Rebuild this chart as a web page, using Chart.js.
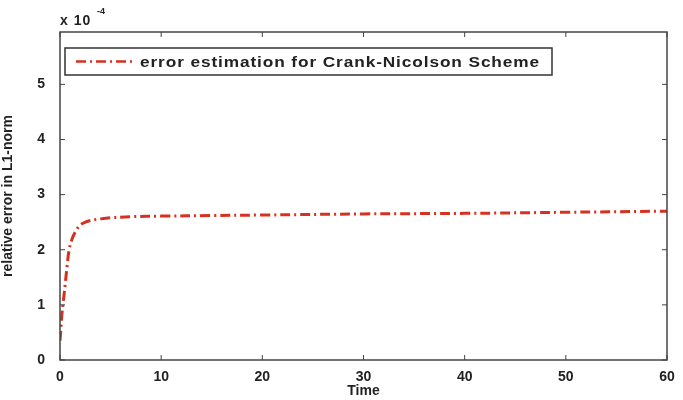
<!DOCTYPE html>
<html>
<head>
<meta charset="utf-8">
<script src="https://cdn.jsdelivr.net/npm/chart.js@4/dist/chart.umd.min.js"></script>
<style>
  html, body { margin: 0; padding: 0; background: #fff; }
  #wrap { width: 683px; height: 400px; position: relative; }
</style>
</head>
<body>
<div id="wrap"><canvas id="errChart"></canvas></div>
<script>
// --- Data (relative error, units of 1e-4) ---
const timeValues = [0, 0.1, 0.2, 0.35, 0.5, 0.7, 0.9, 1.2, 1.6, 2, 2.5, 3, 4, 5, 7, 10, 15, 20, 30, 40, 50, 60];
const errorValues = [0.35, 0.6, 0.85, 1.1, 1.35, 1.7, 2.0, 2.2, 2.35, 2.45, 2.5, 2.53, 2.56, 2.58, 2.6, 2.61, 2.62, 2.63, 2.65, 2.66, 2.68, 2.7];
const xTicks = [0, 10, 20, 30, 40, 50, 60];
const yTicks = [0, 1, 2, 3, 4, 5];
const seriesLabel = 'error estimation for Crank-Nicolson Scheme';

const LINE_COLOR = '#d8301e';
const AXIS_COLOR = '#444';
const FONT = '"Liberation Sans", Arial, sans-serif';

// frame, inward ticks, legend box and exponent label
const matlabFrame = {
    id: 'matlabFrame',
    afterDraw(chart) {
        const { ctx, chartArea: a, scales } = chart;
        ctx.save();
        ctx.strokeStyle = AXIS_COLOR;
        ctx.lineWidth = 1.5;
        ctx.strokeRect(a.left, a.top, a.right - a.left, a.bottom - a.top);

        ctx.lineWidth = 1;
        xTicks.forEach(t => {
            const px = scales.x.getPixelForValue(t);
            ctx.beginPath();
            ctx.moveTo(px, a.bottom); ctx.lineTo(px, a.bottom - 5);
            ctx.moveTo(px, a.top); ctx.lineTo(px, a.top + 5);
            ctx.stroke();
        });
        yTicks.forEach(t => {
            const py = scales.y.getPixelForValue(t);
            ctx.beginPath();
            ctx.moveTo(a.left, py); ctx.lineTo(a.left + 5, py);
            ctx.moveTo(a.right, py); ctx.lineTo(a.right - 5, py);
            ctx.stroke();
        });

        // legend
        const lx = 65, ly = 48, lw = 487, lh = 27;
        ctx.fillStyle = '#fff';
        ctx.fillRect(lx, ly, lw, lh);
        ctx.strokeStyle = '#333';
        ctx.lineWidth = 1.5;
        ctx.strokeRect(lx, ly, lw, lh);
        ctx.strokeStyle = LINE_COLOR;
        ctx.lineWidth = 2.5;
        ctx.setLineDash([10, 4, 2, 4]);
        ctx.beginPath();
        ctx.moveTo(76, ly + lh / 2); ctx.lineTo(133, ly + lh / 2);
        ctx.stroke();
        ctx.setLineDash([]);
        ctx.fillStyle = '#222';
        ctx.font = 'bold 15px ' + FONT;
        ctx.textBaseline = 'middle';
        ctx.textAlign = 'left';
        // widen the text to fill the box like the original
        const stretch = 1.15;
        const natural = ctx.measureText(seriesLabel).width * stretch;
        const spacing = Math.max(0, (400 - natural) / seriesLabel.length / stretch);
        ctx.letterSpacing = spacing.toFixed(2) + 'px';
        ctx.save();
        ctx.translate(140, ly + lh / 2 + 1);
        ctx.scale(stretch, 1);
        ctx.fillText(seriesLabel, 0, 0);
        ctx.restore();
        ctx.letterSpacing = '0px';

        // exponent
        ctx.font = 'bold 14px ' + FONT;
        ctx.textBaseline = 'alphabetic';
        ctx.letterSpacing = '1px';
        ctx.fillText('x 10', 60, 25);
        ctx.letterSpacing = '0px';
        ctx.font = 'bold 9px ' + FONT;
        ctx.fillText('-4', 97, 14);
        ctx.restore();
    }
};

window.onload = () => {
    const ctx = document.getElementById('errChart').getContext('2d');
    new Chart(ctx, {
        type: 'line',
        data: {
            datasets: [{
                label: seriesLabel,
                data: timeValues.map((t, i) => ({ x: t, y: errorValues[i] })),
                borderColor: LINE_COLOR,
                borderWidth: 3,
                borderDash: [10, 4, 2, 4],
                pointRadius: 0,
                tension: 0.35,
                fill: false
            }]
        },
        options: {
            responsive: true,
            maintainAspectRatio: false,
            animation: false,
            layout: { padding: { top: 32, right: 16, left: 0, bottom: 0 } },
            plugins: {
                legend: { display: false },
                tooltip: { enabled: false }
            },
            scales: {
                x: {
                    type: 'linear',
                    min: 0, max: 60,
                    afterBuildTicks: s => { s.ticks = xTicks.map(v => ({ value: v })); },
                    afterFit: s => { s.height = 40; },
                    grid: { display: false },
                    border: { display: false },
                    ticks: { color: '#222', font: { family: FONT, size: 14, weight: 'bold' }, padding: 1, maxRotation: 0 },
                    title: { display: true, text: 'Time', color: '#222', font: { family: FONT, size: 14, weight: 'bold' }, padding: { top: -5, bottom: 0 } }
                },
                y: {
                    min: 0, max: 5.95,
                    afterBuildTicks: s => { s.ticks = yTicks.map(v => ({ value: v })); },
                    afterFit: s => { s.width = 60; },
                    grid: { display: false },
                    border: { display: false },
                    ticks: { color: '#222', font: { family: FONT, size: 14, weight: 'bold' }, padding: 7 },
                    title: { display: true, text: 'relative error in L1-norm', color: '#222', font: { family: FONT, size: 14, weight: 'bold' }, padding: { top: 0, bottom: 2 } }
                }
            }
        },
        plugins: [matlabFrame]
    });
};
</script>
</body>
</html>
